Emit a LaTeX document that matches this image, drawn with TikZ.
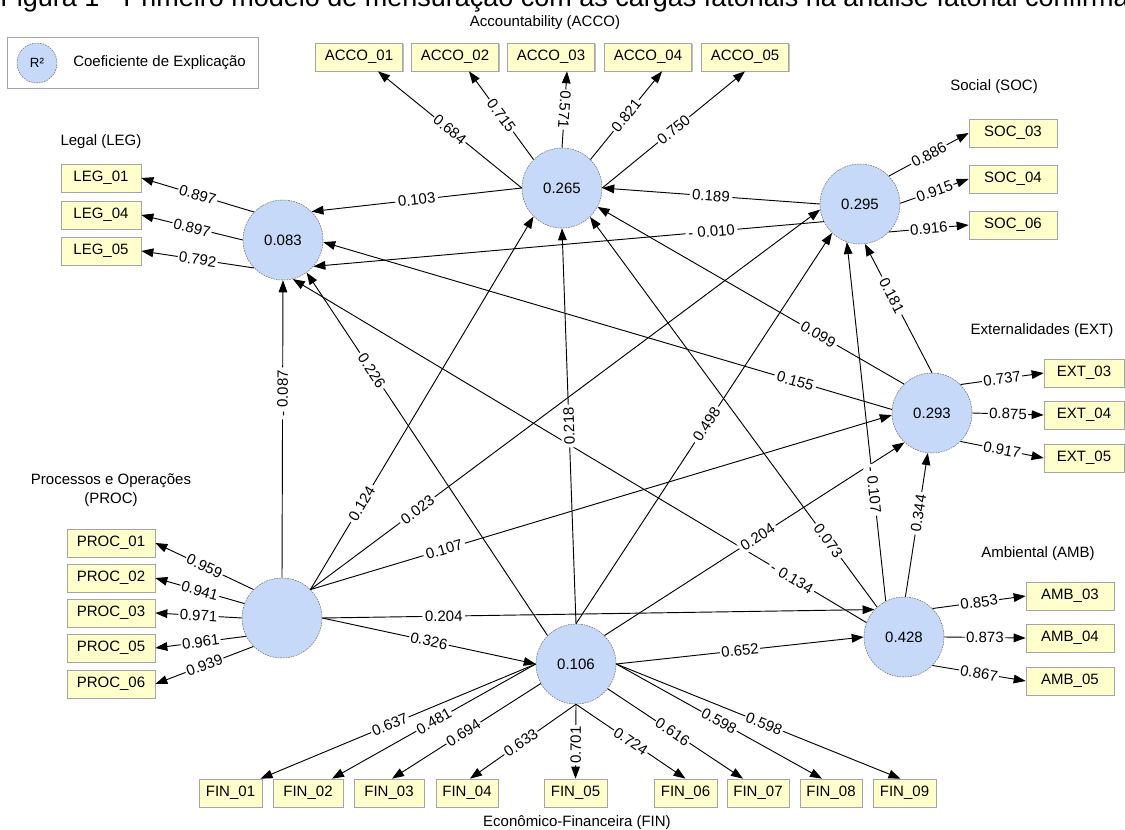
\documentclass[tikz,border=0pt]{standalone}
\usepackage{fontspec}
\setmainfont{Liberation Sans}
\usetikzlibrary{arrows.meta,shadows,calc}
\definecolor{boxfill}{RGB}{255,255,204}
\definecolor{boxline}{RGB}{165,165,165}
\definecolor{lvfill}{RGB}{198,217,248}
\definecolor{lvline}{RGB}{110,110,110}
\pgfdeclarelayer{fore}
\pgfsetlayers{main,fore}
\newcommand\linkit[5][0.5]{%
  \draw[con] (#2) -- (#3);
  \begin{pgfonlayer}{fore}\path (#2) -- node[lbl,pos=#1,#5]{#4} (#3);\end{pgfonlayer}}
\begin{document}
\begin{tikzpicture}[x=0.75pt,y=-0.75pt,
  every node/.style={font=\fontsize{11.25}{14.25}\selectfont},
  ind/.style={draw=boxline, fill=boxfill, minimum height=21pt, inner sep=0pt, line width=0.5pt,
     drop shadow={shadow xshift=0.9pt,shadow yshift=-0.9pt,opacity=0.25,fill=black}},
  lv/.style={circle, draw=lvline, dash pattern=on 1.2pt off 0.8pt, fill=lvfill, minimum size=60pt, inner sep=0pt, line width=0.4pt},
  grp/.style={inner sep=0pt},
  con/.style={line width=0.7pt, -{Triangle[length=9pt,width=6.5pt]}},
  lbl/.style={fill=white, inner sep=1pt, sloped},
]
\useasboundingbox (0,0) rectangle (1125,830);
\fill[white] (0,0) rectangle (1125,830);

% title (cut at the top edge)
\node[anchor=base west, inner sep=0pt, font=\fontsize{20.25}{24}\selectfont] (title) at (0,7) {Figura 1 - Primeiro modelo de mensuração com as cargas fatoriais na análise fatorial confirmatória};

% legend
\node[draw=boxline, fill=white, minimum width=188.25pt, minimum height=38.25pt, inner sep=0pt,
  drop shadow={shadow xshift=0.9pt,shadow yshift=-0.9pt,opacity=0.2,fill=black}] (legend) at (132.5,62.5) {};
\node[lv, minimum size=30pt, font=\fontsize{10}{12}\selectfont] (legc) at (37,63) {R²};
\node[anchor=west, inner sep=0pt] (legt) at (73,63) {Coeficiente de Explicação};

% latent variables
\node[lv] (LEG) at (283,240) {0.083};
\node[lv] (ACCO) at (562,188) {0.265};
\node[lv] (SOC) at (860,204) {0.295};
\node[lv] (EXT) at (932,413) {0.293};
\node[lv] (AMB) at (904,637) {0.428};
\node[lv] (FIN) at (576,664) {0.106};
\node[lv] (PROC) at (282,618) {};

% group titles
\node[grp] (tACCO) at (545,23) {Accountability (ACCO)};
\node[grp] (tSOC) at (994,87) {Social (SOC)};
\node[grp] (tLEG) at (101,142) {Legal (LEG)};
\node[grp] (tEXT) at (1042,331) {Externalidades (EXT)};
\node[grp, align=center] (tPROC) at (111,490) {Processos e Operações\\(PROC)};
\node[grp] (tAMB) at (1038,554) {Ambiental (AMB)};
\node[grp] (tFIN) at (577,823) {Econômico-Financeira (FIN)};

% indicators
\node[ind, minimum width=65.25pt] (acco1) at (359,57) {ACCO\_01};
\node[ind, minimum width=65.25pt] (acco2) at (455,57) {ACCO\_02};
\node[ind, minimum width=65.25pt] (acco3) at (551,57) {ACCO\_03};
\node[ind, minimum width=65.25pt] (acco4) at (648,57) {ACCO\_04};
\node[ind, minimum width=65.25pt] (acco5) at (745,57) {ACCO\_05};
\node[ind, minimum width=66pt] (soc3) at (1013,133) {SOC\_03};
\node[ind, minimum width=66pt] (soc4) at (1013,179) {SOC\_04};
\node[ind, minimum width=66pt] (soc6) at (1013,225) {SOC\_06};
\node[ind, minimum width=60pt] (leg1) at (101,178) {LEG\_01};
\node[ind, minimum width=60pt] (leg4) at (101,215) {LEG\_04};
\node[ind, minimum width=60pt] (leg5) at (101,251) {LEG\_05};
\node[ind, minimum width=60pt] (ext3) at (1084,373) {EXT\_03};
\node[ind, minimum width=60pt] (ext4) at (1084,415) {EXT\_04};
\node[ind, minimum width=60pt] (ext5) at (1084,458) {EXT\_05};
\node[ind, minimum width=66pt] (proc1) at (111,543) {PROC\_01};
\node[ind, minimum width=66pt] (proc2) at (111,578) {PROC\_02};
\node[ind, minimum width=66pt] (proc3) at (111,613) {PROC\_03};
\node[ind, minimum width=66pt] (proc5) at (111,648) {PROC\_05};
\node[ind, minimum width=66pt] (proc6) at (111,684) {PROC\_06};
\node[ind, minimum width=66pt] (amb3) at (1070,596) {AMB\_03};
\node[ind, minimum width=66pt] (amb4) at (1070,638) {AMB\_04};
\node[ind, minimum width=66pt] (amb5) at (1070,681) {AMB\_05};
\node[ind, minimum width=47.25pt] (fin1) at (230.5,793) {FIN\_01};
\node[ind, minimum width=52.5pt] (fin2) at (308,793) {FIN\_02};
\node[ind, minimum width=52.5pt] (fin3) at (389,793) {FIN\_03};
\node[ind, minimum width=46.5pt] (fin4) at (467,793) {FIN\_04};
\node[ind, minimum width=47.25pt] (fin5) at (575.5,793) {FIN\_05};
\node[ind, minimum width=47.25pt] (fin6) at (685.5,793) {FIN\_06};
\node[ind, minimum width=46.5pt] (fin7) at (758,793) {FIN\_07};
\node[ind, minimum width=46.5pt] (fin8) at (831,793) {FIN\_08};
\node[ind, minimum width=47.25pt] (fin9) at (904.5,793) {FIN\_09};

% loadings
\linkit{LEG.136}{leg1.east}{0.897}{}
\linkit{LEG.180}{leg4.east}{0.897}{}
\linkit{LEG.224}{leg5.east}{0.792}{}
\linkit{PROC.135}{proc1.east}{0.959}{}
\linkit{PROC.159}{proc2.east}{0.941}{}
\linkit{PROC.180}{proc3.east}{0.971}{}
\linkit{PROC.207}{proc5.east}{0.961}{}
\linkit{PROC.225}{proc6.east}{0.939}{}
\linkit{SOC.44}{soc3.west}{0.886}{}
\linkit{SOC.1}{soc4.west}{0.915}{}
\linkit{SOC.-44}{soc6.west}{0.916}{}
\linkit{EXT.45}{ext3.west}{0.737}{}
\linkit{EXT.0}{ext4.west}{0.875}{}
\linkit{EXT.-45}{ext5.west}{0.917}{}
\linkit{AMB.45}{amb3.west}{0.853}{}
\linkit{AMB.0}{amb4.west}{0.873}{}
\linkit{AMB.-45}{amb5.west}{0.867}{}
\linkit{ACCO.180}{[xshift=14.25pt]acco1.south}{0.684}{}
\linkit{ACCO.135}{[xshift=10.5pt]acco2.south}{0.715}{}
\linkit{ACCO.90}{[xshift=12pt]acco3.south}{0.571}{rotate=180}
\linkit{ACCO.45}{[xshift=10.5pt]acco4.south}{0.821}{}
\linkit{ACCO.0}{acco5.south}{0.750}{}
\linkit[0.53]{FIN.180}{[xshift=22.5pt]fin1.north}{0.637}{}
\linkit{FIN.180}{[xshift=18pt]fin2.north}{0.481}{}
\linkit[0.52]{FIN.209}{[xshift=2.25pt]fin3.north}{0.694}{}
\linkit[0.52]{FIN.270}{[xshift=2.25pt]fin4.north}{0.633}{}
\linkit[0.55]{FIN.270}{fin5.north}{0.701}{}
\linkit{FIN.270}{fin6.north}{0.724}{}
\linkit[0.48]{FIN.-38}{[xshift=-11.25pt]fin7.north}{0.616}{}
\linkit{FIN.0}{[xshift=-6.75pt]fin8.north}{0.598}{}
\linkit[0.52]{FIN.0}{[xshift=-3pt]fin9.north}{0.598}{}

% structural paths
\linkit{ACCO.180}{LEG.45}{0.103}{inner sep=2pt}
\linkit{SOC.180}{ACCO.0}{0.189}{inner sep=2pt}
\linkit[0.22]{SOC.206}{LEG.-41}{- 0.010}{inner sep=2pt}
\linkit[0.6]{EXT.90}{SOC.-83}{0.181}{inner sep=2pt}
\linkit[0.28]{EXT.134}{ACCO.-28}{0.099}{inner sep=2pt}
\linkit[0.17]{EXT.175}{LEG.-3}{0.155}{inner sep=2pt}
\linkit[0.62]{PROC.90}{LEG.-90}{- 0.087}{inner sep=2pt}
\linkit[0.23]{PROC.45}{ACCO.225}{0.124}{inner sep=2pt}
\linkit[0.21]{PROC.45}{SOC.188}{0.023}{inner sep=2pt}
\linkit[0.23]{PROC.45}{EXT.183}{0.107}{inner sep=2pt}
\linkit[0.22]{PROC.0}{AMB.137}{0.204}{inner sep=2pt}
\linkit{PROC.0}{FIN.180}{0.326}{inner sep=1pt}
\linkit[0.73]{FIN.135}{LEG.-54}{0.226}{inner sep=2pt}
\linkit{FIN.90}{ACCO.-90}{0.218}{inner sep=2pt, rotate=180}
\linkit[0.51]{FIN.90}{SOC.226}{0.498}{inner sep=2pt}
\linkit[0.51]{FIN.45}{EXT.227}{0.204}{inner sep=2pt}
\linkit{FIN.0}{AMB.180}{0.652}{inner sep=1pt}
\linkit[0.13]{AMB.159}{LEG.-76}{- 0.134}{inner sep=2pt}
\linkit[0.17]{AMB.132}{ACCO.-46}{0.073}{inner sep=2pt}
\linkit[0.31]{AMB.117}{SOC.251}{- 0.107}{inner sep=2pt}
\linkit[0.58]{AMB.88}{EXT.264}{0.344}{inner sep=2pt}
\end{tikzpicture}
\end{document}
